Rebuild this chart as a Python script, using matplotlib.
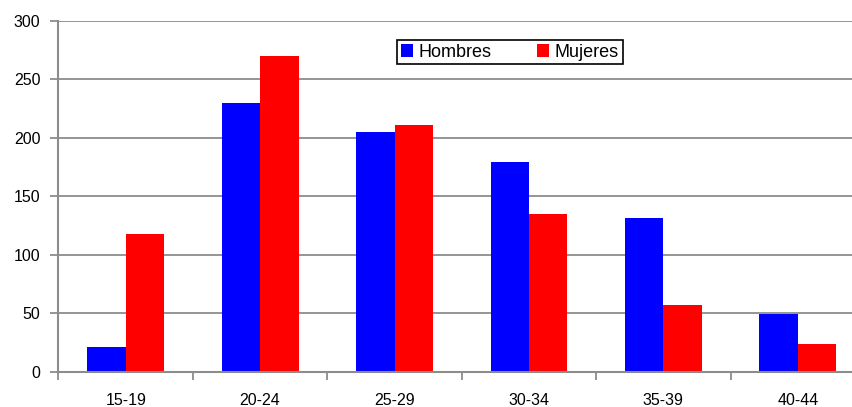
import matplotlib
matplotlib.use("Agg")
import matplotlib.pyplot as plt
import numpy as np

categories = ["15-19", "20-24", "25-29", "30-34", "35-39", "40-44"]
hombres = [21, 230, 205, 179, 131, 49]
mujeres = [118, 270, 211, 135, 57, 24]
yticks = [0, 50, 100, 150, 200, 250, 300]

plt.rcParams['font.family'] = ['Liberation Sans', 'DejaVu Sans']

W, H = 853, 407
fig = plt.figure(figsize=(W / 100, H / 100), dpi=100)
left, right, top, bottom = 58.5, 865, 20.7, 371.7
ax = fig.add_axes([left / W, 1 - bottom / H, (right - left) / W, (bottom - top) / H])

x = np.arange(len(categories))
bw = 0.286
ax.bar(x - bw / 2, hombres, bw, color="#0000ff", label="Hombres", zorder=3)
ax.bar(x + bw / 2, mujeres, bw, color="#ff0000", label="Mujeres", zorder=3)

ax.set_xlim(-0.5, len(categories) - 0.5)
ax.set_ylim(0, 300)
ax.set_yticks(yticks)
ax.yaxis.grid(True, color="#8c8c8c", linewidth=1.3, zorder=0)
ax.set_axisbelow(True)

ax.set_xticks(np.arange(len(categories) + 1) - 0.5)
ax.set_xticklabels([])
ax.set_xticks(x, minor=True)
ax.set_xticklabels(categories, minor=True, fontsize=11.5)
ax.tick_params(axis="x", which="minor", length=0, pad=15.5)
ax.tick_params(axis="x", which="major", length=6, color="#8c8c8c", width=1.3, direction="out")
ax.tick_params(axis="y", length=6, color="#8c8c8c", width=1.3, labelsize=11.5, pad=7)

for s in ["top", "right"]:
    ax.spines[s].set_visible(False)
for s in ["left", "bottom"]:
    ax.spines[s].set_color("#8c8c8c")
    ax.spines[s].set_linewidth(1.5)
    ax.spines[s].set_zorder(4)

leg = fig.legend(loc="upper left", bbox_to_anchor=(397 / W, 1 - 40 / H), ncol=2,
                 frameon=True, fancybox=False, edgecolor="black", framealpha=1,
                 fontsize=13, handlelength=0.7, handleheight=0.7, handletextpad=0.3,
                 columnspacing=2.5, borderpad=0.2, borderaxespad=0)
leg.get_frame().set_linewidth(1.2)

fig.savefig("out.png", dpi=100)
